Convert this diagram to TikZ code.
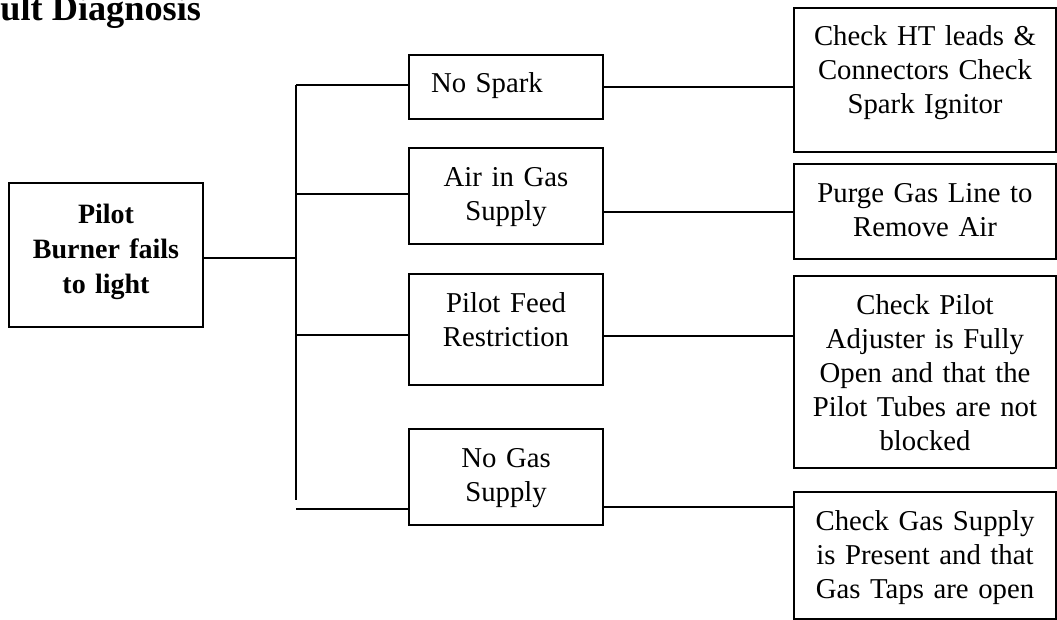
\documentclass[tikz,border=0pt]{standalone}
\usepackage{fontspec}
\setmainfont{Liberation Serif}
\usetikzlibrary{positioning}

\begin{document}
\begin{tikzpicture}[
    x=0.4pt, y=-0.4pt,
    boxed/.style={draw, line width=0.8pt, anchor=north west, inner xsep=0pt, inner ysep=0pt,
        align=center, font=\fontsize{11.5}{13.6}\selectfont, text height=15.2pt},
    fault/.style={boxed, text width=77.6pt, font=\bfseries\fontsize{11.2}{14}\selectfont, text height=16pt},
    cause/.style={boxed, text width=77.6pt},
    fix/.style={boxed, text width=104.8pt},
    link/.style={line width=0.8pt}
]
\useasboundingbox (0,0) rectangle (1057,619);

% heading, cut at the left edge
\node[anchor=base west, inner sep=0pt, font=\bfseries\fontsize{14.5}{16}\selectfont] (title) at (0,21) {ult Diagnosis};

% the fault
\node[fault, text depth=41.6pt] (pilot) at (8,182) {Pilot\\Burner fails\\to light};

% possible causes
\node[cause, align=left, inner xsep=8.8pt, text width=60pt, text depth=10.4pt] (spark) at (408,54) {No Spark};
\node[cause, text depth=23.2pt] (air) at (408,147) {Air in Gas\\Supply};
\node[cause, text depth=29.2pt] (feed) at (408,273) {Pilot Feed\\Restriction};
\node[cause, text depth=23.2pt] (nogas) at (408,428) {No Gas\\Supply};

% remedies
\node[fix, text depth=42.4pt] (ht) at (793,7) {Check HT leads \&\\Connectors Check\\Spark Ignitor};
\node[fix, text depth=22.8pt] (purge) at (793,163) {Purge Gas Line to\\Remove Air};
\node[fix, text depth=61.6pt] (chk) at (793,275) {Check Pilot\\Adjuster is Fully\\Open and that the\\Pilot Tubes are not\\blocked};
\node[fix, text depth=35.6pt] (gas) at (793,491) {Check Gas Supply\\is Present and that\\Gas Taps are open};

% bus to the causes
\coordinate (b1) at (296,85);
\coordinate (b2) at (296,194);
\coordinate (b3) at (296,335);
\coordinate (b4) at (296,509);
\coordinate (bend) at (296,500);

\draw[link] ([yshift=-1.2pt]pilot.east) -- ([yshift=-1.2pt]pilot.east -| b1);
\draw[link] (b1) -- (bend);
\draw[link] (b1) -- (b1 -| spark.west);
\draw[link] (b2) -- (b2 -| air.west);
\draw[link] (b3) -- (b3 -| feed.west);
\draw[link] (b4) -- (b4 -| nogas.west);

% causes to remedies
\draw[link] (spark.east) -- (spark.east -| ht.west);
\draw[link] (purge.west -| air.east) -- (purge.west);
\draw[link] ([yshift=-2.4pt]feed.east) -- ([yshift=-2.4pt]feed.east -| chk.west);
\draw[link] ([yshift=-12pt]nogas.east) -- ([yshift=-12pt]nogas.east -| gas.west);

\end{tikzpicture}
\end{document}
